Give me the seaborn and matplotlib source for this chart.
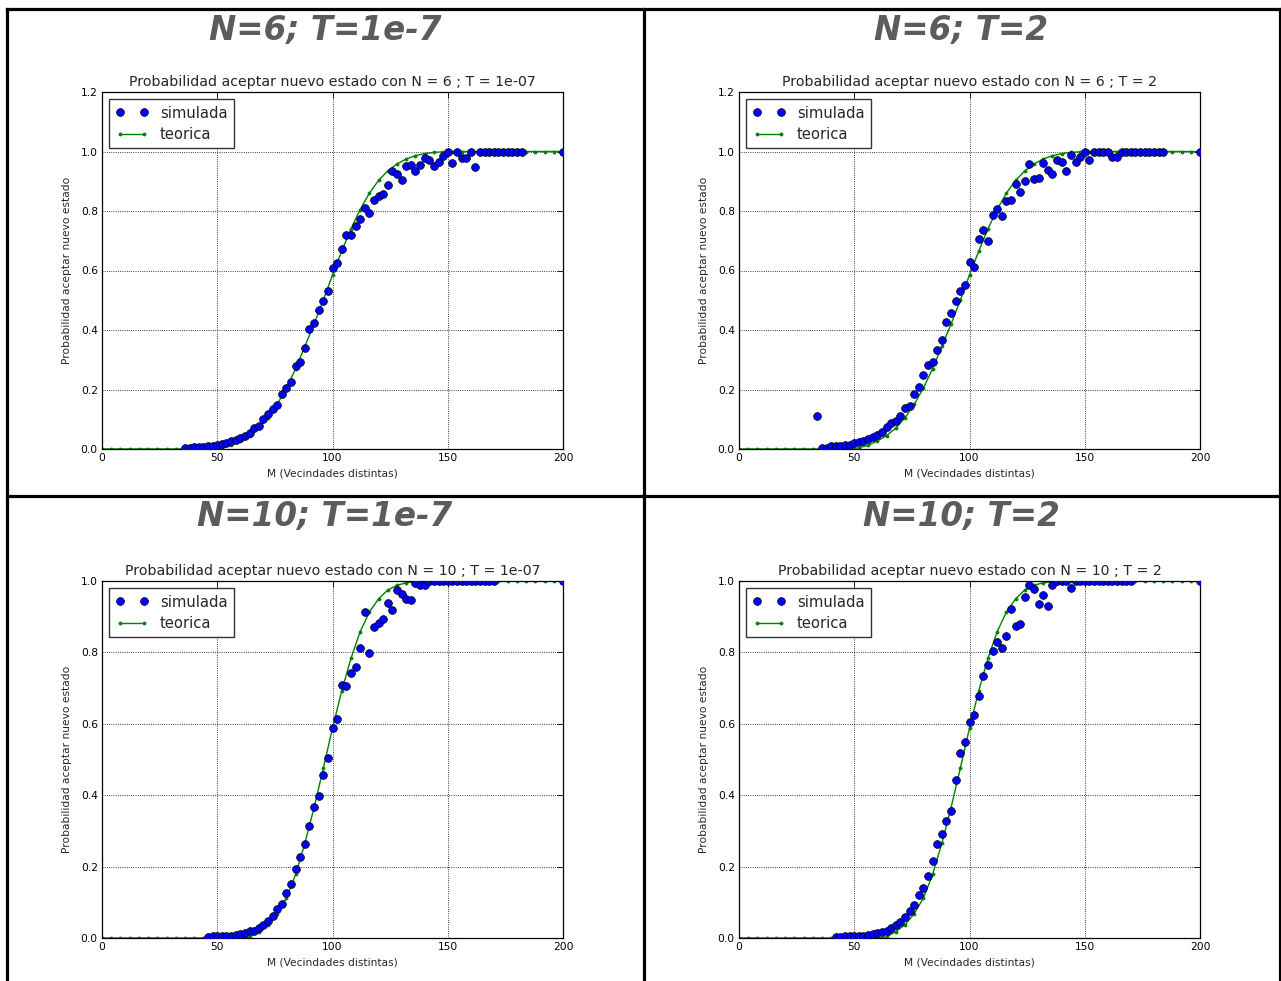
import matplotlib
matplotlib.use("Agg")
import matplotlib.pyplot as plt
from matplotlib.lines import Line2D
import seaborn as sns
import pandas as pd

# ---------------- data ----------------
panel_titles = ["N=6; T=1e-7", "N=6; T=2", "N=10; T=1e-7", "N=10; T=2"]
axes_titles = [
    "Probabilidad aceptar nuevo estado con N = 6 ; T = 1e-07",
    "Probabilidad aceptar nuevo estado con N = 6 ; T = 2",
    "Probabilidad aceptar nuevo estado con N = 10 ; T = 1e-07",
    "Probabilidad aceptar nuevo estado con N = 10 ; T = 2",
]
x_label = "M (Vecindades distintas)"
y_label = "Probabilidad aceptar nuevo estado"
legend_labels = ["simulada", "teorica"]
x_ticks = [0, 50, 100, 150, 200]
y_ticks_top = [0.0, 0.2, 0.4, 0.6, 0.8, 1.0, 1.2]
y_ticks_bottom = [0.0, 0.2, 0.4, 0.6, 0.8, 1.0]

m_teo = [0, 4, 8, 12, 16, 20, 24, 28, 32, 36, 40, 44, 48, 52, 56, 60, 64, 68, 72,
         76, 80, 84, 88, 92, 96, 100, 104, 108, 112, 116, 120, 124, 128, 132, 136,
         140, 144, 148, 152, 156, 160, 164, 168, 172, 176, 180, 184, 188, 192, 196, 200]
teo_n6 = [0, 0, 0, 0, 0, 0, 0, 0, 0, 0, 0, 0, 0,
          0.004, 0.012, 0.027, 0.045, 0.070, 0.105, 0.150, 0.205, 0.270, 0.345,
          0.420, 0.500, 0.585, 0.665, 0.740, 0.805, 0.860, 0.903, 0.935, 0.958,
          0.975, 0.986, 0.993, 0.997, 0.999,
          1, 1, 1, 1, 1, 1, 1, 1, 1, 1, 1, 1, 1]
teo_n10 = [0, 0, 0, 0, 0, 0, 0, 0, 0, 0, 0, 0, 0, 0, 0, 0,
           0.003, 0.018, 0.037, 0.068, 0.112, 0.178, 0.265, 0.365, 0.475, 0.588,
           0.692, 0.783, 0.858, 0.913, 0.950, 0.975, 0.988, 0.995, 0.998,
           1, 1, 1, 1, 1, 1, 1, 1, 1, 1, 1, 1, 1, 1, 1, 1]

m_sim_a = [36, 38, 40, 42, 44, 46, 48, 50, 52, 54, 56, 58, 60, 62, 64, 66, 68, 70, 72,
           74, 76, 78, 80, 82, 84, 86, 88, 90, 92, 94, 96, 98, 100, 102, 104, 106, 108,
           110, 112, 114, 116, 118, 120, 122, 124, 126, 128, 130, 132, 134, 136, 138,
           140, 142, 144, 146, 148, 150, 152, 154, 156, 158, 160, 162, 164, 166, 168,
           170, 172, 174, 176, 178, 180, 182, 200]
sim_a = [0.002, 0.003, 0.008, 0.008, 0.008, 0.009, 0.011, 0.013, 0.017, 0.021, 0.027,
         0.030, 0.038, 0.044, 0.053, 0.069, 0.078, 0.102, 0.117, 0.134, 0.149, 0.184,
         0.204, 0.226, 0.280, 0.292, 0.341, 0.404, 0.425, 0.467, 0.496, 0.532, 0.610,
         0.626, 0.671, 0.718, 0.718, 0.751, 0.773, 0.810, 0.794, 0.836, 0.852, 0.857,
         0.887, 0.936, 0.923, 0.904, 0.951, 0.954, 0.936, 0.954, 0.977, 0.970, 0.951,
         0.964, 0.985, 1.0, 0.962, 1.0, 0.979, 0.979, 1.0, 0.949, 1.0, 1.0, 1.0, 1.0,
         1.0, 1.0, 0.998, 1.0, 1.0, 1.0, 1.0]

m_sim_b = [34, 36, 38, 40, 42, 44, 46, 48, 50, 52, 54, 56, 58, 60, 62, 64, 66, 68, 70,
           72, 74, 76, 78, 80, 82, 84, 86, 88, 90, 92, 94, 96, 98, 100, 102, 104, 106,
           108, 110, 112, 114, 116, 118, 120, 122, 124, 126, 128, 130, 132, 134, 136,
           138, 140, 142, 144, 146, 148, 150, 152, 154, 156, 158, 160, 162, 164, 166,
           168, 170, 172, 174, 176, 178, 180, 182, 184, 200]
sim_b = [0.111, 0.003, 0.004, 0.009, 0.011, 0.011, 0.012, 0.015, 0.020, 0.024, 0.028,
         0.035, 0.041, 0.048, 0.057, 0.073, 0.086, 0.095, 0.110, 0.137, 0.146, 0.185,
         0.207, 0.249, 0.281, 0.294, 0.334, 0.368, 0.426, 0.457, 0.496, 0.530, 0.550,
         0.630, 0.611, 0.707, 0.735, 0.700, 0.787, 0.807, 0.783, 0.834, 0.838, 0.892,
         0.863, 0.902, 0.959, 0.908, 0.910, 0.960, 0.938, 0.923, 0.970, 0.966, 0.936,
         0.989, 0.964, 0.983, 1.0, 0.970, 1.0, 1.0, 1.0, 1.0, 0.983, 0.983, 1.0, 1.0,
         1.0, 1.0, 1.0, 1.0, 1.0, 1.0, 1.0, 1.0, 1.0]

m_sim_c = [46, 48, 50, 52, 54, 56, 58, 60, 62, 64, 66, 68, 70, 72, 74, 76, 78, 80, 82,
           84, 86, 88, 90, 92, 94, 96, 98, 100, 102, 104, 106, 108, 110, 112, 114, 116,
           118, 120, 122, 124, 126, 128, 130, 132, 134, 136, 138, 140, 142, 144, 146,
           148, 150, 152, 154, 156, 158, 160, 162, 164, 166, 168, 170, 200]
sim_c = [0.002, 0.005, 0.006, 0.005, 0.006, 0.007, 0.008, 0.011, 0.014, 0.019, 0.021,
         0.027, 0.037, 0.047, 0.063, 0.080, 0.094, 0.125, 0.151, 0.193, 0.227, 0.262,
         0.313, 0.367, 0.399, 0.457, 0.505, 0.588, 0.613, 0.710, 0.707, 0.743, 0.758,
         0.812, 0.914, 0.797, 0.870, 0.881, 0.894, 0.938, 0.920, 0.974, 0.963, 0.950,
         0.947, 0.995, 0.988, 0.988, 1.0, 1.0, 1.0, 1.0, 1.0, 1.0, 1.0, 1.0, 1.0, 1.0,
         1.0, 1.0, 1.0, 1.0, 1.0, 1.0]

m_sim_d = [42, 44, 46, 48, 50, 52, 54, 56, 58, 60, 62, 64, 66, 68, 70, 72, 74, 76, 78,
           80, 82, 84, 86, 88, 90, 92, 94, 96, 98, 100, 102, 104, 106, 108, 110, 112,
           114, 116, 118, 120, 122, 124, 126, 128, 130, 132, 134, 136, 138, 140, 142,
           144, 146, 148, 150, 152, 154, 156, 158, 160, 162, 164, 166, 168, 170, 200]
sim_d = [0.002, 0.004, 0.006, 0.006, 0.006, 0.006, 0.007, 0.009, 0.010, 0.014, 0.018,
         0.021, 0.027, 0.036, 0.046, 0.058, 0.076, 0.093, 0.120, 0.139, 0.173, 0.217,
         0.264, 0.292, 0.328, 0.357, 0.443, 0.519, 0.548, 0.604, 0.626, 0.679, 0.733,
         0.765, 0.805, 0.829, 0.811, 0.847, 0.922, 0.874, 0.879, 0.954, 0.990, 0.977,
         0.936, 0.961, 0.930, 0.988, 1.0, 1.0, 1.0, 0.979, 1.0, 1.0, 1.0, 1.0, 1.0,
         1.0, 1.0, 1.0, 1.0, 1.0, 1.0, 1.0, 1.0, 1.0]

panels = [
    (m_sim_a, sim_a, teo_n6, y_ticks_top, 1.2),
    (m_sim_b, sim_b, teo_n6, y_ticks_top, 1.2),
    (m_sim_c, sim_c, teo_n10, y_ticks_bottom, 1.0),
    (m_sim_d, sim_d, teo_n10, y_ticks_bottom, 1.0),
]

# ---------------- layout ----------------
sns.set_style("white")
plt.rcParams["font.family"] = ["DejaVu Sans"]

W, H = 1281, 981
fig = plt.figure(figsize=(W / 100, H / 100), dpi=100)
fig.patch.set_facecolor("white")

ax_px = [(102, 92), (739, 92), (102, 581), (739, 581)]  # left, top in pixels
ax_w, ax_h = 461, 357
title_px = [(325, 30), (961, 30), (325, 517), (961, 517)]

for i, (ms, sv, tv, yt, ytop) in enumerate(panels):
    lx, ty = ax_px[i]
    ax = fig.add_axes([lx / W, 1 - (ty + ax_h) / H, ax_w / W, ax_h / H])
    df_sim = pd.DataFrame({"M": ms, "P": sv})
    df_teo = pd.DataFrame({"M": m_teo, "P": tv})
    sns.lineplot(data=df_sim, x="M", y="P", ax=ax, estimator=None, sort=False,
                 marker="o", linestyle="", color="blue", markersize=5.6,
                 markeredgecolor="black", markeredgewidth=0.5,
                 label=legend_labels[0], zorder=3)
    sns.lineplot(data=df_teo, x="M", y="P", ax=ax, estimator=None, sort=False,
                 marker=".", color="green", linewidth=1.0, markersize=4.5,
                 markeredgecolor="green", markeredgewidth=0.5,
                 label=legend_labels[1], zorder=2)
    ax.set_xlim(0, 200)
    ax.set_ylim(0, ytop)
    ax.set_xticks(x_ticks)
    ax.set_yticks(yt)
    ax.set_xticklabels([str(v) for v in x_ticks])
    ax.set_yticklabels(["%.1f" % v for v in yt])
    ax.tick_params(direction="in", top=True, right=True, length=4, width=0.6,
                   labelsize=7.7, colors="black", pad=3)
    ax.grid(True, linestyle=":", color="black", linewidth=0.6)
    for sp in ax.spines.values():
        sp.set_color("black")
        sp.set_linewidth(0.9)
        sp.set_visible(True)
    ax.set_title(axes_titles[i], fontsize=10.2, pad=4.5)
    ax.set_xlabel(x_label, fontsize=7.7, labelpad=3.5)
    ax.set_ylabel(y_label, fontsize=7.7, labelpad=6)
    leg = ax.legend(loc="upper left", numpoints=2, fancybox=False, framealpha=1,
                    edgecolor="#333333", fontsize=10.6, borderaxespad=0.5,
                    handlelength=2.2, handletextpad=0.8, borderpad=0.42,
                    labelspacing=0.42)
    leg.get_frame().set_linewidth(1.0)
    cx, cy = title_px[i]
    fig.text(cx / W, 1 - cy / H, panel_titles[i], ha="center", va="center",
             fontsize=23.5, fontweight="bold", fontstyle="italic", color="#5c5c5c")

# panel borders
lw = 2.3
def fline(x0, y0, x1, y1):
    fig.add_artist(Line2D([x0 / W, x1 / W], [1 - y0 / H, 1 - y1 / H],
                          transform=fig.transFigure, color="black", linewidth=lw,
                          solid_capstyle="projecting"))

fline(7, 9, 1280, 9)
fline(7, 9, 7, 981)
fline(1279.5, 9, 1279.5, 981)
fline(643.5, 9, 643.5, 981)
fline(7, 496, 1280, 496)

fig.savefig("out.png", dpi=100, facecolor="white")
